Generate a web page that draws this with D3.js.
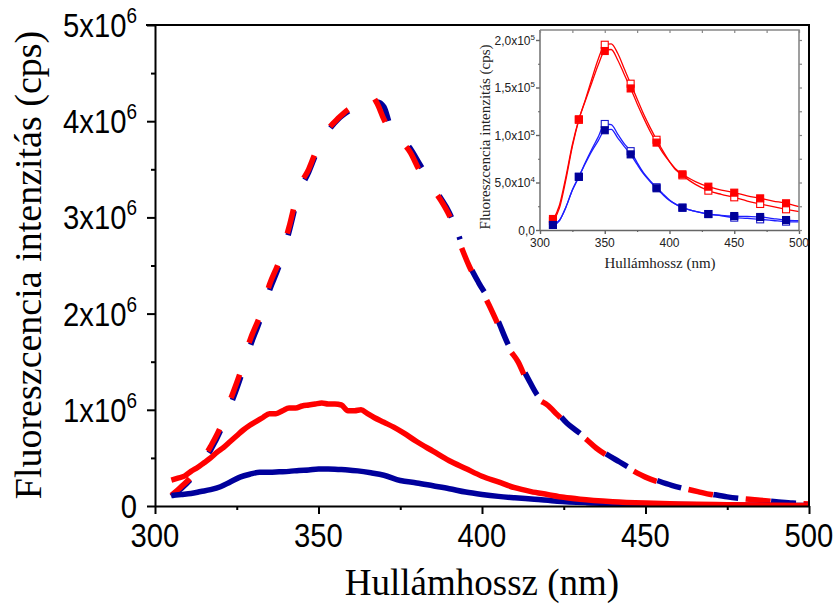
<!DOCTYPE html>
<html>
<head>
<meta charset="utf-8">
<script src="https://cdn.jsdelivr.net/npm/d3@7"></script>
<style>
  html, body { margin: 0; padding: 0; background: #fff; }
  svg { display: block; }
</style>
</head>
<body>
<svg id="chart" width="835" height="605"></svg>
<script>
// ---------- main spectra: [wavelength (nm), intensity (10^6 cps)] ----------
const dashedBlue = [[305,0.1],[308,0.18],[311,0.28],[314,0.42],[317,0.58],[320,0.78],[323,1.04],[326,1.32],[329,1.65],[332,1.92],[335,2.24],[338,2.5],[341,2.85],[344,3.25],[347,3.47],[350,3.72],[353,3.9],[356,4.02],[359,4.1],[362,4.16],[364,4.14],[366,4.12],[368,4.2],[370,4.15],[372,3.95],[375,3.85],[378,3.72],[381,3.55],[384,3.38],[387,3.22],[390,3.05],[393,2.8],[396,2.52],[399,2.32],[402,2.15],[405,1.92],[408,1.68],[411,1.52],[414,1.33],[417,1.15],[420,1.07],[423,0.97],[426,0.86],[429,0.78],[432,0.7],[435,0.61],[438,0.54],[442,0.46],[446,0.38],[450,0.31],[454,0.26],[458,0.215],[462,0.18],[466,0.15],[470,0.125],[475,0.095],[480,0.075],[485,0.06],[490,0.045],[495,0.03],[500,0.02]];
const dashedRed = [[305,0.11],[308,0.2],[311,0.3],[314,0.45],[317,0.62],[320,0.82],[323,1.1],[326,1.38],[329,1.72],[332,1.97],[335,2.3],[338,2.55],[341,2.9],[344,3.3],[347,3.5],[350,3.75],[353,3.92],[356,4.03],[359,4.12],[362,4.17],[364,4.2],[366,4.27],[368,4.18],[370,4.02],[372,3.9],[375,3.8],[378,3.68],[381,3.48],[384,3.34],[387,3.2],[390,3.02],[393,2.75],[396,2.5],[399,2.3],[402,2.1],[405,1.88],[408,1.65],[411,1.5],[414,1.28],[417,1.12],[420,1.05],[423,0.95],[426,0.85],[429,0.77],[432,0.69],[435,0.6],[438,0.53],[442,0.45],[446,0.37],[450,0.3],[454,0.25],[458,0.21],[462,0.18],[466,0.15],[470,0.12],[475,0.095],[480,0.075],[485,0.06],[490,0.045],[495,0.03],[500,0.02]];
const solidBlue = [[305,0.11],[308,0.12],[311,0.13],[314,0.15],[317,0.17],[320,0.2],[323,0.25],[326,0.3],[329,0.33],[332,0.35],[335,0.35],[338,0.355],[341,0.36],[344,0.37],[347,0.375],[350,0.385],[353,0.385],[356,0.38],[359,0.375],[362,0.365],[366,0.345],[370,0.32],[375,0.265],[380,0.24],[385,0.21],[390,0.18],[395,0.145],[400,0.12],[405,0.1],[410,0.085],[416,0.07],[423,0.05],[432,0.035],[442,0.025],[455,0.017],[470,0.012],[485,0.008],[500,0.006]];
const solidRed = [[305,0.27],[307,0.29],[309,0.31],[311,0.36],[313,0.4],[315,0.45],[317,0.5],[319,0.56],[321,0.61],[323,0.67],[325,0.73],[327,0.79],[329,0.84],[331,0.88],[333,0.92],[335,0.96],[337,0.96],[339,0.99],[341,1.02],[343,1.02],[345,1.04],[347,1.05],[349,1.06],[351,1.07],[353,1.06],[355,1.06],[357,1.05],[359,0.99],[361,0.99],[363,1.0],[365,0.96],[367,0.92],[370,0.87],[373,0.82],[376,0.76],[380,0.67],[385,0.57],[390,0.47],[395,0.39],[400,0.31],[405,0.25],[410,0.19],[415,0.15],[420,0.12],[425,0.09],[430,0.07],[440,0.045],[450,0.03],[460,0.02],[475,0.013],[490,0.008],[500,0.005]];

const mainXTicks = [300, 350, 400, 450, 500];
const mainXMinor = [325, 375, 425, 475];
const mainYTicks = [0, 1, 2, 3, 4, 5];
const mainYMinor = [0.5, 1.5, 2.5, 3.5, 4.5];
const mainYLabels = [["0", ""], ["1x10", "6"], ["2x10", "6"], ["3x10", "6"], ["4x10", "6"], ["5x10", "6"]];

// ---------- inset: intensity in 10^4 cps ----------
const insetLineNm = [310,315,320,325,330,335,340,345,350,355,360,365,370,375,380,385,390,395,400,405,410,420,430,440,450,460,470,480,490,500];
const redFilledLine = [1.0,2.6,5.6,9.0,11.65,13.6,15.5,17.4,18.85,19.0,17.9,16.4,14.9,13.3,11.8,10.4,9.2,8.1,7.2,6.4,5.86,5.1,4.56,4.2,3.93,3.6,3.33,3.05,2.81,2.46];
const redOpenLine = [0.9,2.3,5.3,8.8,11.6,13.7,15.9,18.0,19.5,19.6,18.6,17.0,15.4,13.8,12.2,10.8,9.5,8.3,7.2,6.3,5.75,4.8,4.14,3.75,3.44,3.05,2.74,2.45,2.18,1.93];
const blueFilledLine = [0.5,1.0,2.4,4.2,5.6,7.0,8.3,9.4,10.5,10.6,9.7,8.8,7.96,6.9,5.9,5.1,4.39,3.7,3.1,2.7,2.35,1.95,1.68,1.55,1.47,1.42,1.37,1.2,1.05,0.98];
const blueOpenLine = [0.5,1.0,2.4,4.2,5.6,7.1,8.5,9.8,11.16,11.1,10.1,9.1,8.3,7.1,6.0,5.2,4.5,3.8,3.15,2.7,2.35,1.95,1.68,1.5,1.3,1.22,1.12,1.0,0.88,0.85];

const insetMarkerNm = [310,330,350,370,390,410,430,450,470,490];
const redFilledPts = [1.16,11.65,18.84,14.9,9.2,5.86,4.56,3.93,3.33,2.81];
const redOpenPts = [0.95,11.6,19.5,15.4,9.5,5.75,4.14,3.44,2.74,2.18];
const blueFilledPts = [0.53,5.6,10.5,7.96,4.39,2.35,1.68,1.47,1.37,1.05];
const blueOpenPts = [0.53,5.6,11.16,8.3,4.5,2.35,1.68,1.3,1.12,0.88];

const insetXTicks = [300, 350, 400, 450, 500];
const insetXMinor = [325, 375, 425, 475];
const insetYTicks = [0, 5, 10, 15, 20];
const insetYMinor = [2.5, 7.5, 12.5, 17.5];
const insetYLabels = [["0,0", ""], ["5,0x10", "4"], ["1,0x10", "5"], ["1,5x10", "5"], ["2,0x10", "5"]];

const RED = "#ff0000";
const NAVY = "#00009c";
const INSET_BLUE = "#1e1eff";

const svg = d3.select("#chart");

// ================= main plot =================
const x = d3.scaleLinear().domain([300, 500]).range([155, 809]);
const y = d3.scaleLinear().domain([0, 5]).range([506, 25]);

svg.append("defs").append("clipPath").attr("id", "mainClip")
  .append("rect").attr("x", 155).attr("y", 25).attr("width", 654).attr("height", 481);

const line = d3.line().x(d => x(d[0])).y(d => y(d[1])).curve(d3.curveMonotoneX);
const plot = svg.append("g").attr("clip-path", "url(#mainClip)");

const DASH = 25, GAP = 33, PERIOD = DASH + GAP;
const splitNm = 393;
const blueA = dashedBlue.filter(d => d[0] <= splitNm);
const blueB = dashedBlue.filter(d => d[0] >= splitNm);

// length of the red dashed curve up to the split wavelength
const tmp = svg.append("path").attr("d", line(dashedRed.filter(d => d[0] <= splitNm)));
const redLenAtSplit = tmp.node().getTotalLength();
tmp.remove();

const lineW = 5.5;
plot.append("path").attr("d", line(blueA)).attr("fill", "none")
  .attr("stroke", NAVY).attr("stroke-width", lineW)
  .attr("stroke-dasharray", `${DASH},${GAP}`);
plot.append("path").attr("d", line(blueB)).attr("fill", "none")
  .attr("stroke", NAVY).attr("stroke-width", lineW)
  .attr("stroke-dasharray", `${DASH},${GAP}`)
  .attr("stroke-dashoffset", redLenAtSplit + PERIOD / 2);
plot.append("path").attr("d", line(dashedRed)).attr("fill", "none")
  .attr("stroke", RED).attr("stroke-width", lineW)
  .attr("stroke-dasharray", `${DASH},${GAP}`);
plot.append("path").attr("d", line(solidBlue)).attr("fill", "none")
  .attr("stroke", NAVY).attr("stroke-width", lineW).attr("stroke-linejoin", "round");
plot.append("path").attr("d", line(solidRed)).attr("fill", "none")
  .attr("stroke", RED).attr("stroke-width", lineW).attr("stroke-linejoin", "round");

// frame and ticks
const frame = svg.append("g").attr("stroke", "#000").attr("stroke-width", 2).attr("fill", "none");
frame.append("path").attr("d", `M146,${y(5)}H${x(500)}V${y(0)}`);
svg.append("g").attr("transform", `translate(${x(300)},0)`)
  .call(d3.axisLeft(y).tickValues(mainYTicks).tickSize(8).tickSizeOuter(0).tickFormat(""))
  .call(g => g.selectAll("path,line").attr("stroke", "#000").attr("stroke-width", 2));
svg.append("g").attr("transform", `translate(${x(300)},0)`)
  .call(d3.axisLeft(y).tickValues(mainYMinor).tickSize(4).tickSizeOuter(0).tickFormat(""))
  .call(g => g.select(".domain").remove())
  .call(g => g.selectAll("line").attr("stroke", "#000").attr("stroke-width", 2));
svg.append("g").attr("transform", `translate(0,${y(0)})`)
  .call(d3.axisBottom(x).tickValues(mainXTicks).tickSize(8).tickSizeOuter(0).tickFormat(""))
  .call(g => g.selectAll("path,line").attr("stroke", "#000").attr("stroke-width", 2));
svg.append("g").attr("transform", `translate(0,${y(0)})`)
  .call(d3.axisBottom(x).tickValues(mainXMinor).tickSize(4).tickSizeOuter(0).tickFormat(""))
  .call(g => g.select(".domain").remove())
  .call(g => g.selectAll("line").attr("stroke", "#000").attr("stroke-width", 2));

// tick labels (condensed sans)
const SQ = 0.86;
mainYTicks.forEach((v, i) => {
  const t = svg.append("text")
    .attr("transform", `translate(137,${y(v) + 12}) scale(${SQ},1)`)
    .attr("text-anchor", "end")
    .attr("font-family", "Liberation Sans, Arial, sans-serif")
    .attr("font-size", 34).attr("fill", "#000");
  t.append("tspan").text(mainYLabels[i][0]);
  if (mainYLabels[i][1]) t.append("tspan").attr("dy", -14).attr("font-size", 22).text(mainYLabels[i][1]);
});
mainXTicks.forEach(v => {
  svg.append("text")
    .attr("transform", `translate(${x(v)},547) scale(${SQ},1)`)
    .attr("text-anchor", "middle")
    .attr("font-family", "Liberation Sans, Arial, sans-serif")
    .attr("font-size", 34).attr("fill", "#000").text(v);
});

// axis titles
svg.append("text")
  .attr("transform", "translate(41,265) rotate(-90)")
  .attr("text-anchor", "middle")
  .attr("font-family", "Liberation Serif, Times New Roman, serif")
  .attr("font-size", 38).attr("fill", "#000")
  .text("Fluoreszcencia intenzitás (cps)");
svg.append("text")
  .attr("x", 482).attr("y", 595)
  .attr("text-anchor", "middle")
  .attr("font-family", "Liberation Serif, Times New Roman, serif")
  .attr("font-size", 37).attr("fill", "#000")
  .text("Hullámhossz (nm)");

// ================= inset =================
const ix = d3.scaleLinear().domain([300, 500]).range([540, 799]);
const iy = d3.scaleLinear().domain([0, 20]).range([230, 40]);
const inset = svg.append("g");
const FRAME = "#666";

inset.append("rect").attr("x", 540).attr("y", 30).attr("width", 259).attr("height", 200)
  .attr("fill", "#fff").attr("stroke", "none");

const iline = d3.line().x(d => ix(d[0])).y(d => iy(d[1])).curve(d3.curveMonotoneX);
const zipLine = vals => insetLineNm.map((n, i) => [n, vals[i]]);
const zipPts = vals => insetMarkerNm.map((n, i) => [n, vals[i]]);

[[redOpenLine, RED], [redFilledLine, RED], [blueOpenLine, INSET_BLUE], [blueFilledLine, INSET_BLUE]].forEach(([vals, c]) => {
  inset.append("path").attr("d", iline(zipLine(vals))).attr("fill", "none")
    .attr("stroke", c).attr("stroke-width", 1.3);
});

const MS = 7;
function markers(vals, stroke, fill) {
  inset.append("g").selectAll("rect").data(zipPts(vals)).join("rect")
    .attr("x", d => ix(d[0]) - MS / 2).attr("y", d => iy(d[1]) - MS / 2)
    .attr("width", MS).attr("height", MS)
    .attr("fill", fill).attr("stroke", stroke).attr("stroke-width", 1.1);
}
markers(redOpenPts, RED, "#fff");
markers(blueOpenPts, "#1a1acc", "#fff");
markers(redFilledPts, RED, RED);
markers(blueFilledPts, "#000099", "#000099");

// inset frame and ticks
inset.append("path").attr("d", `M540,30H799V230`).attr("fill", "none")
  .attr("stroke", "#888").attr("stroke-width", 1.6);
inset.append("g").attr("transform", "translate(540,0)")
  .call(d3.axisLeft(iy).tickValues(insetYTicks).tickSize(4).tickSizeOuter(0).tickFormat(""))
  .call(g => g.select(".domain").attr("d", "M0,30V230"))
  .call(g => g.selectAll("path,line").attr("stroke", FRAME).attr("stroke-width", 1.4));
inset.append("g").attr("transform", "translate(540,0)")
  .call(d3.axisLeft(iy).tickValues(insetYMinor).tickSize(2).tickSizeOuter(0).tickFormat(""))
  .call(g => g.select(".domain").remove())
  .call(g => g.selectAll("line").attr("stroke", FRAME).attr("stroke-width", 1.2));
inset.append("g").attr("transform", "translate(0,230)")
  .call(d3.axisBottom(ix).tickValues(insetXTicks).tickSize(4).tickSizeOuter(0).tickFormat(""))
  .call(g => g.selectAll("path,line").attr("stroke", FRAME).attr("stroke-width", 1.4));
inset.append("g").attr("transform", "translate(0,230)")
  .call(d3.axisBottom(ix).tickValues(insetXMinor).tickSize(2).tickSizeOuter(0).tickFormat(""))
  .call(g => g.select(".domain").remove())
  .call(g => g.selectAll("line").attr("stroke", FRAME).attr("stroke-width", 1.2));
// inward ticks on the top and right edges
inset.append("g").attr("transform", "translate(0,30)")
  .call(d3.axisBottom(ix).tickValues(insetXTicks.concat(insetXMinor)).tickSize(3).tickSizeOuter(0).tickFormat(""))
  .call(g => g.select(".domain").remove())
  .call(g => g.selectAll("line").attr("stroke", "#888").attr("stroke-width", 1.2));
inset.append("g").attr("transform", "translate(799,0)")
  .call(d3.axisLeft(iy).tickValues(insetYTicks.concat(insetYMinor)).tickSize(-3).tickSizeOuter(0).tickFormat(""))
  .call(g => g.select(".domain").remove())
  .call(g => g.selectAll("line").attr("stroke", "#888").attr("stroke-width", 1.2));

insetYTicks.forEach((v, i) => {
  const t = inset.append("text")
    .attr("x", 535).attr("y", iy(v) + 4.5)
    .attr("text-anchor", "end")
    .attr("font-family", "Liberation Sans, Arial, sans-serif")
    .attr("font-size", 12).attr("fill", "#222");
  t.append("tspan").text(insetYLabels[i][0]);
  if (insetYLabels[i][1]) t.append("tspan").attr("dy", -5).attr("font-size", 8).text(insetYLabels[i][1]);
});
insetXTicks.forEach(v => {
  inset.append("text")
    .attr("x", ix(v)).attr("y", 247)
    .attr("text-anchor", "middle")
    .attr("font-family", "Liberation Sans, Arial, sans-serif")
    .attr("font-size", 12).attr("fill", "#222").text(v);
});
inset.append("text")
  .attr("transform", "translate(490,137) rotate(-90)")
  .attr("text-anchor", "middle")
  .attr("font-family", "Liberation Serif, Times New Roman, serif")
  .attr("font-size", 15).attr("fill", "#222")
  .text("Fluoreszcencia intenzitás (cps)");
inset.append("text")
  .attr("x", 660).attr("y", 268)
  .attr("text-anchor", "middle")
  .attr("font-family", "Liberation Serif, Times New Roman, serif")
  .attr("font-size", 15).attr("fill", "#222")
  .text("Hullámhossz (nm)");
</script>
</body>
</html>
